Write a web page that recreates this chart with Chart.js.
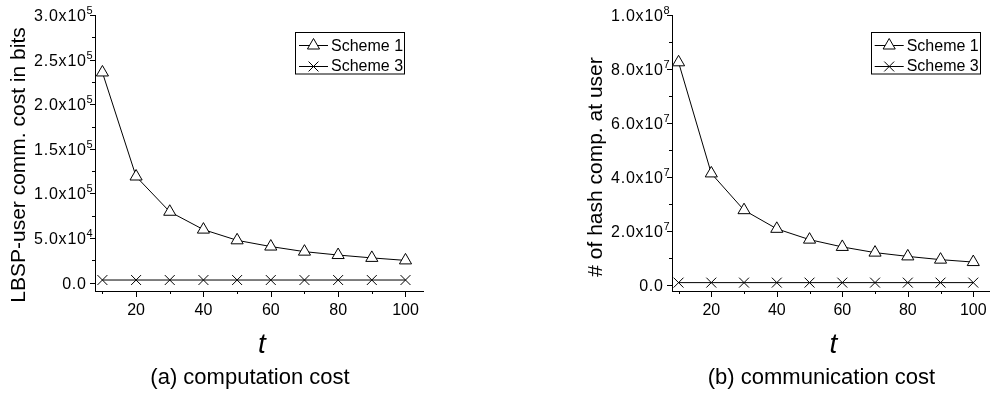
<!DOCTYPE html>
<html>
<head>
<meta charset="utf-8">
<script src="https://cdn.jsdelivr.net/npm/chart.js@4.4.1/dist/chart.umd.min.js"></script>
<style>
  body { margin: 0; background: #fff; }
  #wrap { position: relative; width: 997px; height: 396px; overflow: hidden; }
  canvas { position: absolute; top: 0; }
</style>
</head>
<body>
<div id="wrap">
  <canvas id="chartA" width="498" height="396" style="left:0"></canvas>
  <canvas id="chartB" width="499" height="396" style="left:498px"></canvas>
</div>
<script>
// Data
const tValues = [10, 20, 30, 40, 50, 60, 70, 80, 90, 100];
const compScheme1 = [235600, 119000, 79500, 59500, 47500, 40500, 34800, 31000, 27800, 25000];
const compScheme3 = [3000, 3000, 3000, 3000, 3000, 3000, 3000, 3000, 3000, 3000];
const commScheme1 = [82500000, 41400000, 27800000, 20900000, 16900000, 14200000, 12100000, 10700000, 9500000, 8600000];
const commScheme3 = [1000000, 1000000, 1000000, 1000000, 1000000, 1000000, 1000000, 1000000, 1000000, 1000000];
const seriesNames = ['Scheme 1', 'Scheme 3'];

// Tick labels
const xTickValues = [10, 20, 30, 40, 50, 60, 70, 80, 90, 100];
const xTickLabels = ['', '20', '', '40', '', '60', '', '80', '', '100'];
const compYTickValues = [0, 50000, 100000, 150000, 200000, 250000, 300000];
const compYTickLabels = ['0.0', '5.0x10^4', '1.0x10^5', '1.5x10^5', '2.0x10^5', '2.5x10^5', '3.0x10^5'];
const commYTickValues = [0, 20000000, 40000000, 60000000, 80000000, 100000000];
const commYTickLabels = ['0.0', '2.0x10^7', '4.0x10^7', '6.0x10^7', '8.0x10^7', '1.0x10^8'];

const FONT = "'Liberation Sans', Arial, Helvetica, sans-serif";

function toPoints(values) {
  return tValues.map((t, i) => ({ x: t, y: values[i] }));
}

// Draw the Origin-style marker used in the legend
function drawMarker(ctx, style, x, y, r) {
  ctx.beginPath();
  if (style === 'triangle') {
    ctx.moveTo(x, y - r);
    ctx.lineTo(x + r * Math.sin(2 * Math.PI / 3), y + r / 2);
    ctx.lineTo(x - r * Math.sin(2 * Math.PI / 3), y + r / 2);
    ctx.closePath();
    ctx.fillStyle = '#fff';
    ctx.fill();
    ctx.stroke();
  } else {
    const d = r * Math.SQRT1_2;
    ctx.moveTo(x - d, y - d); ctx.lineTo(x + d, y + d);
    ctx.moveTo(x + d, y - d); ctx.lineTo(x - d, y + d);
    ctx.stroke();
  }
}

// Ticks, labels, titles and legend drawn around the chart area
const decorPlugin = {
  id: 'decor',
  afterDraw(chart, args, opts) {
    const ctx = chart.ctx;
    const area = chart.chartArea;
    const xs = chart.scales.x;
    const ys = chart.scales.y;
    ctx.save();
    ctx.strokeStyle = '#000';
    ctx.fillStyle = '#000';
    ctx.lineWidth = 1;

    // y ticks (major + minor halfway)
    const yv = opts.yTicks;
    ctx.beginPath();
    yv.forEach((v, i) => {
      const py = Math.round(ys.getPixelForValue(v)) + 0.5;
      ctx.moveTo(area.left - 5, py); ctx.lineTo(area.left, py);
      if (i < yv.length - 1) {
        const pm = Math.round(ys.getPixelForValue((v + yv[i + 1]) / 2)) + 0.5;
        ctx.moveTo(area.left - 3, pm); ctx.lineTo(area.left, pm);
      }
    });
    // x ticks
    xTickValues.forEach((v, i) => {
      const px = Math.round(xs.getPixelForValue(v)) + 0.5;
      const len = xTickLabels[i] ? 6 : 3;
      ctx.moveTo(px, area.bottom); ctx.lineTo(px, area.bottom + len);
    });
    ctx.stroke();

    // y tick labels with superscript exponent
    yv.forEach((v, i) => {
      const py = ys.getPixelForValue(v);
      const parts = opts.yLabels[i].split('^');
      ctx.font = '16px ' + FONT;
      ctx.letterSpacing = '0.8px';
      ctx.textAlign = 'right';
      ctx.textBaseline = 'alphabetic';
      ctx.fillText(parts[0], area.left - 8.2, py + 6);
      ctx.letterSpacing = '0px';
      if (parts[1]) {
        ctx.font = '11px ' + FONT;
        ctx.textAlign = 'left';
        ctx.fillText(parts[1], area.left - 8.6, py - 1);
      }
    });

    // x tick labels
    ctx.font = '16px ' + FONT;
    ctx.textAlign = 'center';
    xTickValues.forEach((v, i) => {
      if (!xTickLabels[i]) return;
      ctx.fillText(xTickLabels[i], xs.getPixelForValue(v), area.bottom + 23.5);
    });

    const midX = (area.left + area.right) / 2;
    // x title
    ctx.font = 'italic 28px ' + FONT;
    ctx.fillText('t', midX + 3, 353);
    // caption
    ctx.font = '22px ' + FONT;
    ctx.fillText(opts.caption, midX - 9, 384);

    // y title
    ctx.save();
    ctx.translate(area.left - 70, opts.yTitleY);
    ctx.rotate(-Math.PI / 2);
    ctx.font = '21px ' + FONT;
    ctx.textAlign = 'center';
    ctx.fillText(opts.yTitle, 0, 0);
    ctx.restore();

    // legend box
    const bx = opts.legendX, by = 32.5, bw = 108.5, bh = 41.5;
    ctx.fillStyle = '#fff';
    ctx.fillRect(bx, by, bw, bh);
    ctx.strokeRect(Math.round(bx) + 0.5, by, Math.round(bw), bh);
    const rows = [45, 65.7];
    chart.data.datasets.forEach((ds, i) => {
      const ry = Math.round(rows[i]) + 0.5;
      ctx.beginPath();
      ctx.moveTo(bx + 4, ry); ctx.lineTo(bx + 33, ry);
      ctx.stroke();
      drawMarker(ctx, ds.pointStyle, bx + 18.5, ry, 7);
      ctx.fillStyle = '#000';
      ctx.font = '16px ' + FONT;
      ctx.textAlign = 'left';
      ctx.fillText(ds.label, bx + 36, rows[i] + 5.7);
    });
    ctx.restore();
  }
};

function makeChart(id, s1, s3, yMin, yMax, xMin, xMax, padding, decor) {
  const datasets = [
    { label: seriesNames[0], data: toPoints(s1), pointStyle: 'triangle' },
    { label: seriesNames[1], data: toPoints(s3), pointStyle: 'crossRot' }
  ].map(ds => Object.assign(ds, {
    borderColor: '#000',
    borderWidth: 1,
    pointRadius: 7,
    pointBackgroundColor: '#fff',
    pointBorderColor: '#000',
    pointBorderWidth: 1,
    tension: 0,
    fill: false
  }));

  return new Chart(document.getElementById(id), {
    type: 'line',
    data: { datasets: datasets },
    options: {
      responsive: false,
      animation: false,
      events: [],
      layout: { padding: padding },
      clip: false,
      plugins: {
        legend: { display: false },
        tooltip: { enabled: false },
        decor: decor
      },
      scales: {
        x: {
          type: 'linear', min: xMin, max: xMax,
          grid: { display: false, drawTicks: false },
          ticks: { display: false },
          border: { display: true, color: '#000', width: 1 }
        },
        y: {
          type: 'linear', min: yMin, max: yMax,
          grid: { display: false, drawTicks: false },
          ticks: { display: false },
          border: { display: true, color: '#000', width: 1 }
        }
      }
    },
    plugins: [decorPlugin]
  });
}

makeChart('chartA', compScheme1, compScheme3, -9300, 300000, 7.8, 105.2,
  { left: 95, top: 15, right: 75, bottom: 105 },
  { yTicks: compYTickValues, yLabels: compYTickLabels, yTitle: 'LBSP-user comm. cost in bits',
    yTitleY: 165, caption: '(a) computation cost', legendX: 295 });

makeChart('chartB', commScheme1, commScheme3, -2100000, 100000000, 8.0, 104.8,
  { left: 174, top: 15, right: 0, bottom: 105 },
  { yTicks: commYTickValues, yLabels: commYTickLabels, yTitle: '# of hash comp. at user',
    yTitleY: 167, caption: '(b) communication cost', legendX: 372.7 });
</script>
</body>
</html>
